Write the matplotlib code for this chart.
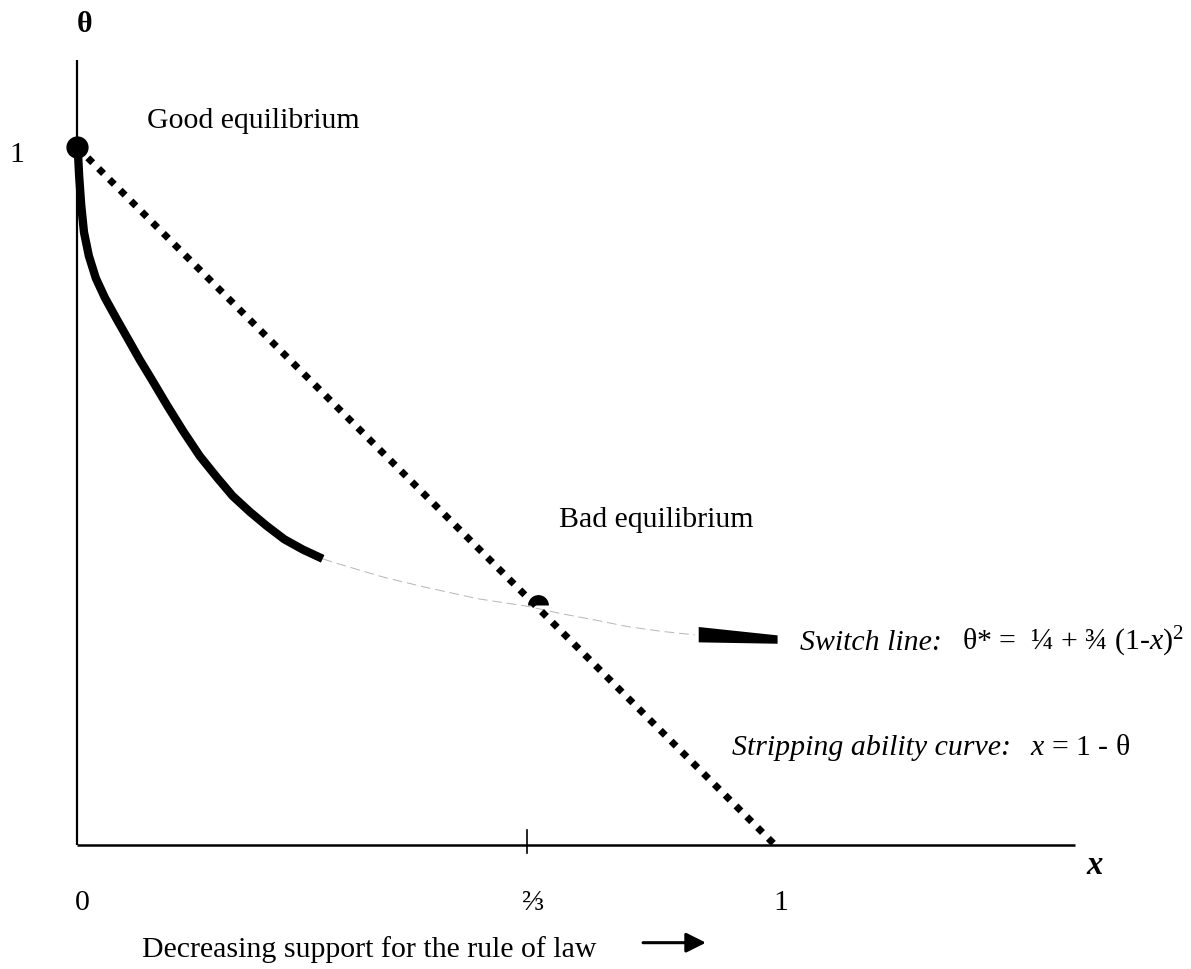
import matplotlib.pyplot as plt

plt.rcParams['font.family'] = ['Liberation Serif', 'DejaVu Serif']
plt.rcParams['mathtext.fontset'] = 'custom'
plt.rcParams['mathtext.rm'] = 'Liberation Serif'
plt.rcParams['mathtext.it'] = 'Liberation Serif:italic'

# switch line, thick part
switch_x = [0.001, 0.003, 0.006, 0.010, 0.017, 0.027, 0.040, 0.056, 0.073, 0.090, 0.107,
            0.129, 0.152, 0.176, 0.201, 0.223, 0.248, 0.272, 0.297, 0.324, 0.352]
switch_theta = [1.000, 0.960, 0.917, 0.878, 0.844, 0.812, 0.784, 0.755, 0.725, 0.695, 0.667,
                0.630, 0.593, 0.557, 0.526, 0.500, 0.477, 0.457, 0.438, 0.423, 0.410]

# faint continuation of the switch line
faint_x = [0.352, 0.367, 0.438, 0.496, 0.573, 0.645, 0.696, 0.749, 0.788, 0.838, 0.885]
faint_theta = [0.410, 0.405, 0.384, 0.370, 0.353, 0.342, 0.331, 0.321, 0.313, 0.306, 0.301]

# short thick piece next to the switch line label
wedge_x = [0.890, 1.003]
wedge_top = [0.313, 0.301]
wedge_bot = [0.291, 0.289]

# stripping ability curve x = 1 - theta
strip_x = [0.0, 1.0]
strip_theta = [1.0, 0.0]

good_eq = (0.0, 1.0)
bad_eq = (0.660, 0.344)

tick_pos = [0.0, 0.645, 1.0]
tick_lbl = ['0', '⅔', '1']

fig = plt.figure(figsize=(11.91, 9.69), dpi=100)
ax = fig.add_axes([0, 0, 1, 1])
ax.set_xlim(-0.1103, 1.596)
ax.set_ylim(-0.1777, 1.2106)
ax.axis('off')

# axes
ax.plot([0, 0], [0, 1.125], color='black', lw=1.6, solid_capstyle='butt')
ax.plot([0, 1.43], [0, 0], color='black', lw=1.8, solid_capstyle='butt')
ax.plot([tick_pos[1], tick_pos[1]], [-0.011, 0.021], color='black', lw=1.2)

# curves
ax.plot(strip_x, strip_theta, color='black', lw=5, linestyle=(0, (1, 1.2)), zorder=3)
ax.plot(switch_x, switch_theta, color='black', lw=6, solid_capstyle='butt',
        solid_joinstyle='round', zorder=4)
ax.plot(faint_x, faint_theta, color='#b5b5b5', lw=0.7, linestyle=(0, (10, 5)), zorder=2)
ax.fill_between(wedge_x, wedge_bot, wedge_top, color='black', lw=0, zorder=4)

# equilibria
ax.plot(*good_eq, 'o', color='black', ms=15, zorder=5)
ax.plot(*bad_eq, 'o', color='black', ms=15, fillstyle='top',
        markerfacecoloralt='none', mew=0, zorder=5)

fs = 21.5
for p, t in zip(tick_pos, tick_lbl):
    ax.text(p + 0.008, -0.083, t, fontsize=fs, ha='center', va='center')
ax.text(-0.086, 0.989, '1', fontsize=fs, ha='center', va='center')
ax.text(0.011, 1.175, 'θ', fontsize=fs, ha='center', va='center', weight='bold')
ax.text(1.458, -0.03, 'x', fontsize=fs + 2, ha='center', va='center',
        style='italic', weight='bold')

ax.text(0.100, 1.027, 'Good equilibrium', fontsize=fs, va='baseline')
ax.text(0.690, 0.456, 'Bad equilibrium', fontsize=fs, va='baseline')

ax.text(1.036, 0.279, 'Switch line:', fontsize=fs, style='italic', va='baseline')
ax.text(1.268, 0.279, 'θ* =  ¼ + ¾ (1-$x$)$^{2}$', fontsize=fs, va='baseline')

ax.text(0.939, 0.129, 'Stripping ability curve:', fontsize=fs, style='italic', va='baseline')
ax.text(1.365, 0.129, '$x$ = 1 - θ', fontsize=fs, va='baseline')

ax.text(0.093, -0.160, 'Decreasing support for the rule of law', fontsize=fs, va='baseline')
ax.annotate('', xy=(0.905, -0.140), xytext=(0.807, -0.140),
            arrowprops=dict(arrowstyle='-|>', color='black', lw=2.2, mutation_scale=30))

fig.savefig('out.png', dpi=100)
